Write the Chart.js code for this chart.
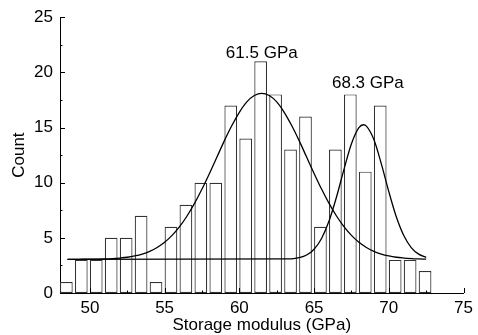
<!DOCTYPE html>
<html>
<head>
<meta charset="utf-8">
<script src="https://cdn.jsdelivr.net/npm/chart.js@4.4.1/dist/chart.umd.min.js"></script>
<style>
html,body{margin:0;padding:0;background:#fff;}
#wrap{width:478px;height:335px;position:relative;}
</style>
</head>
<body>
<div id="wrap"><canvas id="c"></canvas></div>
<script>
// Histogram bins (left edge, GPa) and counts
const BIN_START=[48,49,50,51,52,53,54,55,56,57,58,59,60,61,62,63,64,65,66,67,68,69,70,71,72];
const COUNTS=[1,3,3,5,5,7,1,6,8,10,10,17,14,21,18,13,16,6,13,18,11,17,3,3,2];

// Fitted peak 1 (centre 61.5)
const FIT1_X=[48.5,49,49.5,50,50.5,51,51.5,52,52.5,53,53.5,54,54.5,55,55.5,56,56.5,57,57.5,58,58.5,59,59.5,60,60.5,61,61.5,62,62.5,63,63.5,64,64.5,65,65.5,66,66.5,67,67.5,68,68.5,69,69.5,70,70.5,71,71.5,72,72.5];
const FIT1_Y=[3.05,3.05,3.06,3.06,3.07,3.09,3.12,3.17,3.24,3.36,3.53,3.78,4.13,4.60,5.22,6.01,6.98,8.12,9.42,10.84,12.32,13.81,15.18,16.38,17.32,17.90,18.10,17.90,17.32,16.38,15.18,13.81,12.32,10.84,9.42,8.12,6.98,6.01,5.22,4.60,4.13,3.78,3.53,3.36,3.24,3.17,3.12,3.09,3.07];

// Fitted peak 2 (centre 68.3)
const FIT2_X=[48.5,63.5,64,64.5,65,65.5,66,66.5,67,67.5,68,68.3,68.5,69,69.5,70,70.5,71,71.5,72,72.5];
const FIT2_Y=[3.05,3.10,3.20,3.44,3.97,4.94,6.52,8.70,11.21,13.53,14.99,15.25,15.13,13.91,11.71,9.19,6.91,5.21,4.12,3.52,3.23];

// Peak labels
const PEAK_TEXT=['61.5 GPa','68.3 GPa'];
const PEAK_X=[61.5,68.6];
const PEAK_Y=[21.75,19.0];

const X_TICKS=[50,55,60,65,70,75];
const Y_TICKS=[0,5,10,15,20,25];

const FONT='"Liberation Sans", Arial, sans-serif';

// inward ticks + peak labels
const decor={
  id:'decor',
  afterDraw(chart){
    const c=chart.ctx,xs=chart.scales.x,ys=chart.scales.y,a=chart.chartArea;
    c.save();
    c.strokeStyle='#000';c.lineWidth=1;
    c.beginPath();
    for(let v=0;v<=25;v+=2.5){
      const y=Math.round(ys.getPixelForValue(v))+.5,len=v%5===0?5:2.5;
      c.moveTo(a.left,y);c.lineTo(a.left+len,y);
    }
    for(let v=50;v<=75;v+=2.5){
      const x=Math.round(xs.getPixelForValue(v))+.5,len=v%5===0?5:2.5;
      c.moveTo(x,a.bottom);c.lineTo(x,a.bottom-len);
    }
    c.stroke();
    c.fillStyle='#000';c.font='17px '+FONT;c.textAlign='center';c.textBaseline='middle';
    PEAK_TEXT.forEach((t,i)=>c.fillText(t,xs.getPixelForValue(PEAK_X[i]),ys.getPixelForValue(PEAK_Y[i])));
    c.restore();
  }
};

const barData=BIN_START.map((b,i)=>({x:b+0.425,y:COUNTS[i]}));
const fit1=FIT1_X.map((x,i)=>({x,y:FIT1_Y[i]}));
const fit2=FIT2_X.map((x,i)=>({x,y:FIT2_Y[i]}));

new Chart(document.getElementById('c'),{
  type:'bar',
  data:{datasets:[
    {type:'line',data:fit1,borderColor:'#000',borderWidth:1.3,pointRadius:0,tension:0,cubicInterpolationMode:'monotone',fill:false,order:0},
    {type:'line',data:fit2,borderColor:'#000',borderWidth:1.3,pointRadius:0,tension:0,cubicInterpolationMode:'monotone',fill:false,order:0},
    {type:'bar',data:barData,backgroundColor:'#fff',borderColor:'#333',borderWidth:1.2,barPercentage:0.85,categoryPercentage:1,borderSkipped:false,order:1}
  ]},
  options:{
    responsive:true,maintainAspectRatio:false,animation:false,
    layout:{padding:{left:0,right:10,top:17,bottom:0}},
    plugins:{legend:{display:false},tooltip:{enabled:false}},
    scales:{
      x:{type:'linear',min:48,max:75,offset:false,
        afterBuildTicks:s=>{s.ticks=X_TICKS.map(v=>({value:v}));},
        afterFit:s=>{s.height=42;},
        grid:{display:false,drawTicks:false},
        border:{display:true,color:'#000',width:1},
        ticks:{color:'#000',font:{family:FONT,size:17},padding:5,maxRotation:0,autoSkip:false},
        title:{display:true,text:'Storage modulus (GPa)',color:'#000',font:{family:FONT,size:17},padding:{top:0,bottom:-1}}
      },
      y:{min:0,max:25,
        afterBuildTicks:s=>{s.ticks=Y_TICKS.map(v=>({value:v}));},
        afterFit:s=>{s.width=60;},
        grid:{display:false,drawTicks:false},
        border:{display:true,color:'#000',width:1},
        ticks:{color:'#000',font:{family:FONT,size:17},padding:7},
        title:{display:true,text:'Count',color:'#000',font:{family:FONT,size:17},padding:{top:9,bottom:0}}
      }
    }
  },
  plugins:[decor]
});
</script>
</body>
</html>
